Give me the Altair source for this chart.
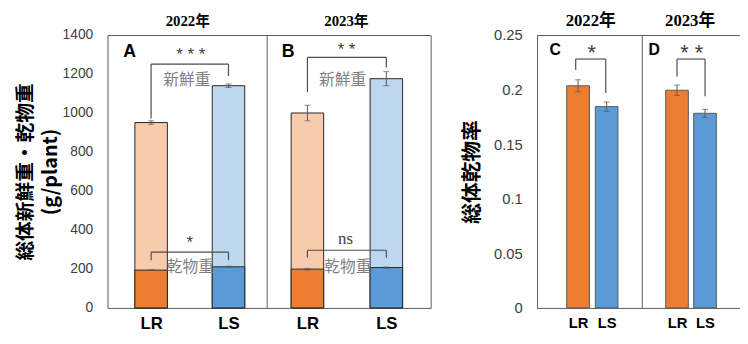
import altair as alt
import pandas as pd

# ---------------- data ----------------
cats = ["LR", "LS", "LR", "LS"]
years = ["2022年", "2023年"]
light_colors = ["#F8CBAD", "#BDD7EE", "#F8CBAD", "#BDD7EE"]
dark_colors = ["#ED7D31", "#5B9BD5", "#ED7D31", "#5B9BD5"]

# panels A (2022) and B (2023): fresh / dry weight, g per plant
pos_ab = [0, 1, 2.02, 3.04]
fresh = [951, 1140, 1000, 1176]
fresh_err = [9, 9, 40, 36]
dry = [194, 211, 199, 207]
dry_err = [2, 3, 4, 3]

# panels C (2022) and D (2023): dry-matter ratio
pos_cd = [0, 1, 3.46, 4.44]
ratio = [0.2035, 0.1844, 0.1994, 0.1783]
ratio_err = [0.0055, 0.0043, 0.0048, 0.0036]

weight_ticks = [0, 200, 400, 600, 800, 1000, 1200, 1400]
ratio_ticks = [0, 0.05, 0.1, 0.15, 0.2, 0.25]

# significance brackets: (LR leg bottom, top, LS leg bottom)
bracket_fresh_2022 = [972, 1251, 1190]
bracket_dry_2022 = [245, 286, 245]
bracket_fresh_2023 = [1108, 1285, 1234]
bracket_dry_2023 = [258, 296, 258]
bracket_ratio_2022 = [0.218, 0.228, 0.197]
bracket_ratio_2023 = [0.212, 0.228, 0.194]

SANS = "Liberation Sans"
CJK = "Noto Sans CJK JP"
SERIF = "Liberation Serif, Noto Sans CJK JP"
FRAME = "#595959"


def label_expr(pos):
    parts = " : ".join(
        f"abs(datum.value - {p}) < 0.01 ? '{c}'" for p, c in zip(pos[:-1], cats[:-1]))
    return f"{parts} : '{cats[-1]}'"


def bracket_df(xl, xr, vals):
    lo_l, top, lo_r = vals
    return pd.DataFrame({
        "x": [xl, xl, xr], "x2": [xl, xr, xr],
        "y": [lo_l, top, lo_r], "y2": [top, top, top],
    })


def bracket_layer(df, xs, ys, color="#4d4d4d"):
    return alt.Chart(df).mark_rule(color=color, strokeWidth=1.2).encode(
        x=alt.X("x:Q", scale=xs), x2="x2:Q",
        y=alt.Y("y:Q", scale=ys), y2="y2:Q")


def text_layer(x, y, txt, xs, ys, **kw):
    df = pd.DataFrame({"x": [x], "y": [y], "t": [txt]})
    return alt.Chart(df).mark_text(baseline="middle", align="center", **kw).encode(
        x=alt.X("x:Q", scale=xs), y=alt.Y("y:Q", scale=ys), text="t:N")


def errbar_layers(df, val, err, xs, ys, cap=6):
    base = alt.Chart(df).transform_calculate(
        lo=f"datum.{val} - datum.{err}", hi=f"datum.{val} + datum.{err}")
    rule = base.mark_rule(color="#595959", strokeWidth=1).encode(
        x=alt.X("x:Q", scale=xs), y=alt.Y("lo:Q", scale=ys), y2="hi:Q")
    t1 = base.mark_tick(color="#595959", orient="horizontal", size=cap, thickness=1).encode(
        x=alt.X("x:Q", scale=xs), y=alt.Y("lo:Q", scale=ys))
    t2 = base.mark_tick(color="#595959", orient="horizontal", size=cap, thickness=1).encode(
        x=alt.X("x:Q", scale=xs), y=alt.Y("hi:Q", scale=ys))
    return [rule, t1, t2]


def x_axis(pos, size):
    return alt.Axis(values=pos, tickCount=len(pos), labelExpr=label_expr(pos), ticks=False,
                    domain=False, grid=False, labelOverlap=False,
                    labelFont=SANS, labelFontWeight="bold", labelFontSize=size,
                    labelColor="#000000", labelPadding=8, title=None)


def divider(xval, ymax, xs, ys):
    df = pd.DataFrame({"x": [xval], "y": [0], "y2": [ymax]})
    return alt.Chart(df).mark_rule(color=FRAME, strokeWidth=1).encode(
        x=alt.X("x:Q", scale=xs), y=alt.Y("y:Q", scale=ys), y2="y2:Q")


# ---------------- panels A + B ----------------
xs_ab = alt.Scale(domain=[-0.5, 3.549], nice=False, zero=False)
ys_ab = alt.Scale(domain=[0, 1400], nice=False)
df_ab = pd.DataFrame({"x": pos_ab, "cat": cats, "fresh": fresh, "ferr": fresh_err,
                      "dry": dry, "derr": dry_err,
                      "light": light_colors, "dark": dark_colors})
yax_ab = alt.Axis(values=weight_ticks, tickCount=len(weight_ticks), format="d",
                  ticks=False, domain=False, grid=False, labelOverlap=False,
                  labelFont=SANS, labelFontSize=14, labelColor="#404040", labelPadding=15,
                  title=["総体新鮮重・乾物重", "(g/plant)"], titleFont=CJK, titleFontSize=20,
                  titleFontWeight="bold", titleColor="#000000", titleLineHeight=25,
                  titlePadding=2)

ab_layers = [
    alt.Chart(df_ab).mark_bar(size=33, stroke="#262626", strokeWidth=1).encode(
        x=alt.X("x:Q", scale=xs_ab, axis=x_axis(pos_ab, 17)),
        y=alt.Y("fresh:Q", scale=ys_ab, axis=yax_ab),
        color=alt.Color("light:N", scale=None)),
    alt.Chart(df_ab).mark_bar(size=33, stroke="#262626", strokeWidth=1).encode(
        x=alt.X("x:Q", scale=xs_ab), y=alt.Y("dry:Q", scale=ys_ab),
        color=alt.Color("dark:N", scale=None)),
]
ab_layers += errbar_layers(df_ab, "fresh", "ferr", xs_ab, ys_ab)
ab_layers += errbar_layers(df_ab, "dry", "derr", xs_ab, ys_ab)
ab_layers.append(divider(1.5, 1400, xs_ab, ys_ab))
ab_layers.append(bracket_layer(bracket_df(pos_ab[0], pos_ab[1], bracket_fresh_2022), xs_ab, ys_ab))
ab_layers.append(bracket_layer(bracket_df(pos_ab[0], pos_ab[1], bracket_dry_2022), xs_ab, ys_ab))
ab_layers.append(bracket_layer(bracket_df(pos_ab[2], pos_ab[3], bracket_fresh_2023), xs_ab, ys_ab))
ab_layers.append(bracket_layer(bracket_df(pos_ab[2], pos_ab[3], bracket_dry_2023), xs_ab, ys_ab))
letter_style = dict(font=SANS, fontWeight="bold", fontSize=18, color="#000000")
sig_style = dict(font=SANS, fontSize=17, color="#404040")
lbl_style = dict(font=CJK, fontSize=16, color="#7f7f7f")
title_style_ab = dict(font=SERIF, fontSize=15, fontWeight="bold", color="#000000")
ab_layers += [
    text_layer(0.475, 1472, years[0], xs_ab, ys_ab, **title_style_ab),
    text_layer(2.525, 1472, years[1], xs_ab, ys_ab, **title_style_ab),
    text_layer(-0.278, 1311, "A", xs_ab, ys_ab, **letter_style),
    text_layer(1.772, 1311, "B", xs_ab, ys_ab, **letter_style),
    text_layer(0.512, 1296, "* * *", xs_ab, ys_ab, **sig_style),
    text_layer(0.5, 332, "*", xs_ab, ys_ab, **sig_style),
    text_layer(2.525, 1323, "* *", xs_ab, ys_ab, **sig_style),
    text_layer(2.512, 354, "ns", xs_ab, ys_ab, font="Liberation Serif", fontSize=17,
               color="#404040"),
    text_layer(0.463, 1167, "新鮮重", xs_ab, ys_ab, **lbl_style),
    text_layer(0.506, 212, "乾物重", xs_ab, ys_ab, **lbl_style),
    text_layer(2.475, 1167, "新鮮重", xs_ab, ys_ab, **lbl_style),
    text_layer(2.543, 208, "乾物重", xs_ab, ys_ab, **lbl_style),
]
AB = alt.layer(*ab_layers).properties(width=328, height=277)

# ---------------- panels C + D ----------------
xs_cd = alt.Scale(domain=[-1.262, 5.525], nice=False, zero=False)
ys_cd = alt.Scale(domain=[0, 0.25], nice=False)
df_cd = pd.DataFrame({"x": pos_cd, "cat": cats, "v": ratio, "e": ratio_err,
                      "col": dark_colors})
yax_cd = alt.Axis(values=ratio_ticks, tickCount=len(ratio_ticks), format="~g",
                  ticks=False, domain=False, grid=False, labelOverlap=False,
                  labelFont=SANS, labelFontSize=15, labelColor="#404040", labelPadding=15,
                  title="総体乾物率", titleFont=CJK, titleFontSize=21,
                  titleFontWeight="bold", titleColor="#000000", titlePadding=11)
cd_layers = [
    alt.Chart(df_cd).mark_bar(size=23, stroke="#595959", strokeWidth=1).encode(
        x=alt.X("x:Q", scale=xs_cd, axis=x_axis(pos_cd, 15)),
        y=alt.Y("v:Q", scale=ys_cd, axis=yax_cd),
        color=alt.Color("col:N", scale=None)),
]
cd_layers += errbar_layers(df_cd, "v", "e", xs_cd, ys_cd)
cd_layers.append(divider(2.246, 0.25, xs_cd, ys_cd))
cd_layers.append(bracket_layer(bracket_df(-0.082, 0.967, bracket_ratio_2022), xs_cd, ys_cd))
cd_layers.append(bracket_layer(bracket_df(pos_cd[2], pos_cd[3], bracket_ratio_2023), xs_cd, ys_cd))
title_style_cd = dict(font=SERIF, fontSize=17, fontWeight="bold", color="#000000")
letter_cd = dict(font=SANS, fontWeight="bold", fontSize=16, color="#000000")
sig_cd = dict(font=SANS, fontSize=22, color="#404040")
cd_layers += [
    text_layer(0.443, 0.2632, years[0], xs_cd, ys_cd, **title_style_cd),
    text_layer(3.918, 0.2632, years[1], xs_cd, ys_cd, **title_style_cd),
    text_layer(-0.803, 0.236, "C", xs_cd, ys_cd, **letter_cd),
    text_layer(2.663, 0.236, "D", xs_cd, ys_cd, **letter_cd),
    text_layer(0.476, 0.233, "*", xs_cd, ys_cd, **sig_cd),
    text_layer(3.974, 0.233, "* *", xs_cd, ys_cd, **sig_cd),
]
CD = alt.layer(*cd_layers).properties(width=207, height=277)


def build(pad):
    return alt.hconcat(AB, CD, spacing=30).properties(padding=pad).configure_view(
        stroke=FRAME, strokeWidth=1).configure_axis(labelOverlap=False)


try:
    chart = build({"left": 7, "top": 0, "right": -2, "bottom": -3})
    chart.to_dict()
except Exception:
    chart = build({"left": 7, "top": 0, "right": 0, "bottom": 0})

chart.save("out.html", embed_options={"renderer": "svg", "actions": False})
